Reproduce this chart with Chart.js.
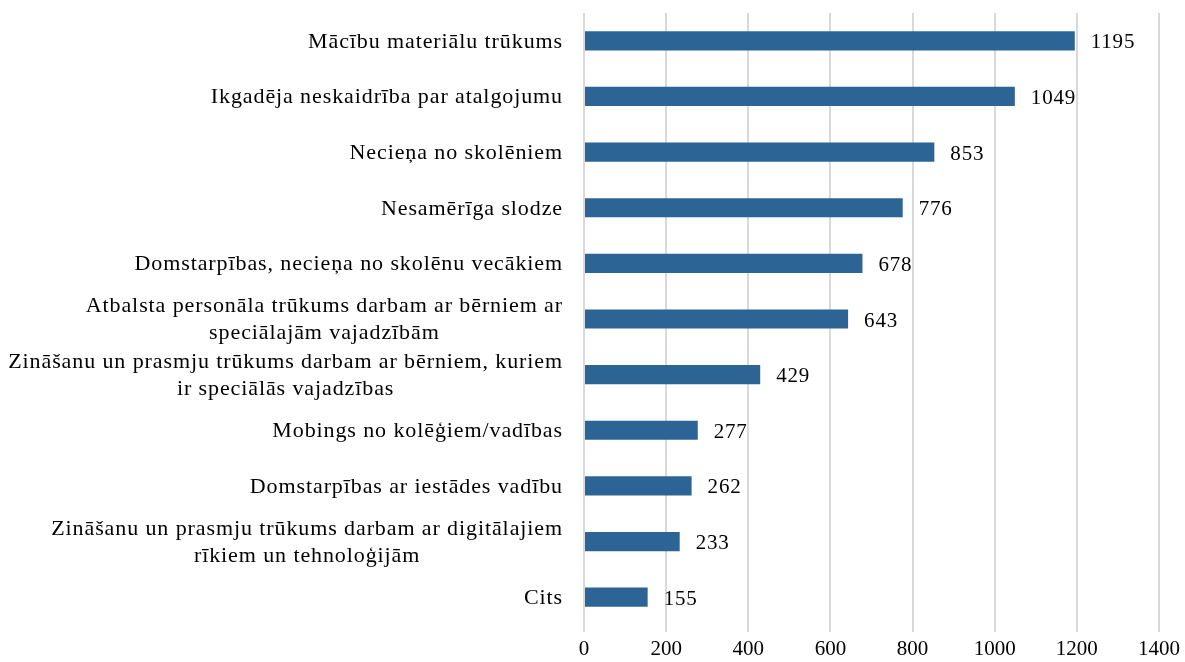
<!DOCTYPE html>
<html>
<head>
<meta charset="utf-8">
<script src="https://cdn.jsdelivr.net/npm/chart.js@4/dist/chart.umd.min.js"></script>
<style>
  html, body { margin: 0; padding: 0; background: #fff; }
  #wrap { width: 1185px; height: 662px; }
</style>
</head>
<body>
<div id="wrap"><canvas id="chart"></canvas></div>
<script>
const categories = [
    ['Mācību materiālu trūkums'],
    ['Ikgadēja neskaidrība par atalgojumu'],
    ['Necieņa no skolēniem'],
    ['Nesamērīga slodze'],
    ['Domstarpības, necieņa no skolēnu vecākiem'],
    ['Atbalsta personāla trūkums darbam ar bērniem ar', 'speciālajām vajadzībām'],
    ['Zināšanu un prasmju trūkums darbam ar bērniem, kuriem', 'ir speciālās vajadzības'],
    ['Mobings no kolēģiem/vadības'],
    ['Domstarpības ar iestādes vadību'],
    ['Zināšanu un prasmju trūkums darbam ar digitālajiem', 'rīkiem un tehnoloģijām'],
    ['Cits']
];
const values = [1195, 1049, 853, 776, 678, 643, 429, 277, 262, 233, 155];

const FONT = '"Liberation Serif", "Times New Roman", serif';
const BAR_COLOR = '#2D6496';
const GRID_COLOR = '#D9D9D9';

// category labels (multi-line centred on themselves) and value labels
const labelPlugin = {
    id: 'labelPlugin',
    afterDraw(chart) {
        const ctx = chart.ctx;
        const yScale = chart.scales.y;
        const xScale = chart.scales.x;
        const right = chart.chartArea.left - 21;
        ctx.save();
        ctx.font = '22px ' + FONT;
        ctx.fillStyle = '#000';
        ctx.textBaseline = 'middle';
        ctx.letterSpacing = '0.9px';
        categories.forEach((lines, i) => {
            const y = yScale.getPixelForValue(i);
            const widest = Math.max(...lines.map(l => ctx.measureText(l).width));
            const cx = right - widest / 2;
            const lh = 27;
            const start = y - (lines.length - 1) * lh / 2 + 1;
            ctx.textAlign = 'center';
            lines.forEach((l, j) => ctx.fillText(l, cx, start + j * lh));
        });
        ctx.font = '21px ' + FONT;
        ctx.textAlign = 'left';
        ctx.letterSpacing = '0.8px';
        values.forEach((v, i) => {
            const y = yScale.getPixelForValue(i);
            ctx.fillText(String(v), xScale.getPixelForValue(v) + 16, y + 2);
        });
        ctx.restore();
    }
};

const ctx = document.getElementById('chart');
const chart = new Chart(ctx, {
    type: 'bar',
    data: {
        labels: categories.map(c => c.join(' ')),
        datasets: [{
            data: values,
            backgroundColor: BAR_COLOR,
            borderWidth: 0,
            barPercentage: 0.345,
            categoryPercentage: 1
        }]
    },
    options: {
        indexAxis: 'y',
        responsive: true,
        maintainAspectRatio: false,
        animation: false,
        layout: {
            padding: { left: 584, right: 25, top: 13, bottom: 0 }
        },
        plugins: {
            legend: { display: false },
            tooltip: { enabled: false }
        },
        scales: {
            x: {
                min: 0,
                max: 1400,
                afterFit: scale => { scale.height = 37; },
                ticks: {
                    stepSize: 200,
                    color: '#000',
                    padding: 5,
                    font: { family: FONT, size: 21 },
                    callback: v => String(v)
                },
                grid: {
                    color: GRID_COLOR,
                    lineWidth: 2,
                    drawTicks: true,
                    tickLength: 7,
                    tickColor: GRID_COLOR
                },
                border: { display: false }
            },
            y: {
                display: false
            }
        }
    },
    plugins: [labelPlugin]
});
</script>
</body>
</html>
